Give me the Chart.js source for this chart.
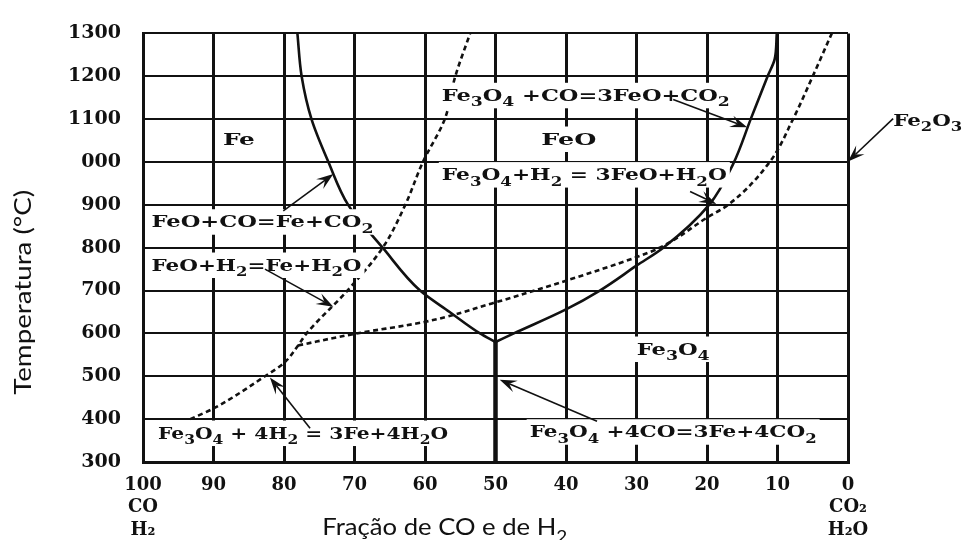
<!DOCTYPE html>
<html>
<head>
<meta charset="utf-8">
<script src="https://cdn.jsdelivr.net/npm/chart.js@4.4.1/dist/chart.umd.min.js"></script>
<style>
    html, body { margin: 0; padding: 0; background: #fff; }
</style>
</head>
<body>
<canvas id="myChart" width="962" height="540"></canvas>
<script>
// axis ticks (x runs from 100 % CO/H2 on the left to 0 on the right)
var xTickValues = [100, 90, 80, 70, 60, 50, 40, 30, 20, 10, 0];
var xTickLabels = [['100', 'CO', 'H₂'], '90', '80', '70', '60', '50', '40', '30', '20', '10', ['0', 'CO₂', 'H₂O']];
var yTickValues = [300, 400, 500, 600, 700, 800, 900, 1000, 1100, 1200, 1300];
var yTickLabels = ['300', '400', '500', '600', '700', '800', '900', '000', '1100', '1200', '1300'];

// FeO + CO = Fe + CO2 (solid)
var coFeFrac = [50, 52.2, 56.5, 60.7, 66, 70.9, 73.7, 76.1, 77.5, 78.1];
var coFeTemp = [580, 600, 650, 700, 800, 900, 1000, 1100, 1200, 1300];
// Fe3O4 + CO = 3FeO + CO2 (solid)
var coFeoFrac = [50, 47.4, 40, 35.2, 30, 26.2, 19.7, 16.3, 13.8, 11.4, 10.4, 10.1];
var coFeoTemp = [580, 600, 656, 700, 758, 800, 900, 995, 1100, 1200, 1240, 1300];
// Fe3O4 + 4CO = 3Fe + 4CO2 (solid, below 570)
var coMagFrac = [50, 50];
var coMagTemp = [300, 580];
// Fe3O4 + 4H2 = 3Fe + 4H2O and FeO + H2 = Fe + H2O (dashed)
var h2FeFrac = [93.3, 90, 82.7, 80, 78, 76.8, 71, 66, 62.8, 60.3, 57.2, 55.7, 53.6];
var h2FeTemp = [400, 425, 500, 531, 572, 600, 700, 800, 900, 1000, 1100, 1200, 1300];
// Fe3O4 + H2 = 3FeO + H2O (dashed)
var h2FeoFrac = [78, 70, 60, 50.5, 40, 30, 26.7, 20, 17, 11.1, 7.8, 5, 2.3];
var h2FeoTemp = [572, 599, 627, 670, 723, 778, 800, 870, 900, 1000, 1100, 1200, 1300];

function pts(fr, tp) {
    return fr.map((f, i) => ({ x: f, y: tp[i] }));
}

// text labels on the diagram (x = fraction, y = temperature of the text centre)
var notes = [
    { text: 'Fe', x: 86.4, y: 1053, w: 32 },
    { text: 'FeO', x: 39.6, y: 1055, w: 55 },
    { text: 'Fe_3O_4', x: 24.8, y: 565, w: 73 },
    { text: 'Fe_2O_3', x: -11.3, y: 1099, w: 69 },
    { text: 'Fe_3O_4 +CO=3FeO+CO_2', x: 37.2, y: 1157, w: 288 },
    { text: 'Fe_3O_4+H_2 = 3FeO+H_2O', x: 37.4, y: 972, w: 285 },
    { text: 'FeO+CO=Fe+CO_2', x: 83.05, y: 862, w: 222 },
    { text: 'FeO+H_2=Fe+H_2O', x: 83.9, y: 761, w: 210 },
    { text: 'Fe_3O_4 + 4H_2 = 3Fe+4H_2O', x: 77.3, y: 369, w: 290 },
    { text: 'Fe_3O_4 +4CO=3Fe+4CO_2', x: 24.8, y: 372, w: 287 }
];
// arrows: tail (x1,y1) -> head (x2,y2)
var arrows = [
    { x1: -6.4, y1: 1101, x2: 0, y2: 1001 },
    { x1: 24.8, y1: 1146, x2: 14.3, y2: 1081 },
    { x1: 22.4, y1: 931, x2: 18.7, y2: 902 },
    { x1: 80.1, y1: 886, x2: 73.0, y2: 972 },
    { x1: 82.7, y1: 750, x2: 73.0, y2: 662 },
    { x1: 76.3, y1: 379, x2: 82.0, y2: 497 },
    { x1: 35.6, y1: 395, x2: 49.4, y2: 492 }
];

var ink = '#111';
var serif = '"DejaVu Serif", serif';
var sans = 'Lato, "Open Sans", sans-serif';

function richParts(text) {
    var parts = [], re = /_(\d)/g, last = 0, m;
    while ((m = re.exec(text))) {
        if (m.index > last) parts.push({ t: text.slice(last, m.index), sub: false });
        parts.push({ t: m[1], sub: true });
        last = re.lastIndex;
    }
    if (last < text.length) parts.push({ t: text.slice(last), sub: false });
    return parts;
}

function drawRich(ctx, text, cx, cy, size, family, weight, width, bg) {
    var parts = richParts(text);
    var total = 0;
    parts.forEach(p => {
        ctx.font = weight + ' ' + (p.sub ? Math.round(size * 0.74) : size) + 'px ' + family;
        p.w = ctx.measureText(p.t).width;
        total += p.w;
    });
    var sx = width ? width / total : 1;
    var left = cx - total * sx / 2;
    if (bg) {
        ctx.fillStyle = '#fff';
        ctx.fillRect(left - 3, cy - size * 0.7, total * sx + 6, size * 1.5);
    }
    ctx.save();
    ctx.translate(left, cy + size * 0.36);
    ctx.scale(sx, 1);
    ctx.fillStyle = ink;
    ctx.textAlign = 'left';
    ctx.textBaseline = 'alphabetic';
    var x = 0;
    parts.forEach(p => {
        ctx.font = weight + ' ' + (p.sub ? Math.round(size * 0.74) : size) + 'px ' + family;
        ctx.fillText(p.t, x, p.sub ? size * 0.32 : 0);
        x += p.w;
    });
    ctx.restore();
}

function drawArrow(ctx, x1, y1, x2, y2) {
    var a = Math.atan2(y2 - y1, x2 - x1), len = 17, half = 6;
    var c = Math.cos(a), s = Math.sin(a);
    ctx.strokeStyle = ink;
    ctx.fillStyle = ink;
    ctx.lineWidth = 1.6;
    ctx.beginPath();
    ctx.moveTo(x1, y1);
    ctx.lineTo(x2 - c * len * 0.6, y2 - s * len * 0.6);
    ctx.stroke();
    ctx.beginPath();
    ctx.moveTo(x2, y2);
    ctx.lineTo(x2 - len * c + half * s, y2 - len * s - half * c);
    ctx.lineTo(x2 - len * 0.6 * c, y2 - len * 0.6 * s);
    ctx.lineTo(x2 - len * c - half * s, y2 - len * s + half * c);
    ctx.closePath();
    ctx.fill();
}

var annotate = {
    id: 'annotate',
    afterDatasetsDraw: function (chart) {
        var ctx = chart.ctx, xs = chart.scales.x, ys = chart.scales.y, area = chart.chartArea;
        ctx.save();
        notes.forEach(n => {
            drawRich(ctx, n.text, xs.getPixelForValue(n.x), ys.getPixelForValue(n.y), 17,
                serif, 'bold', n.w, true);
        });
        arrows.forEach(a => {
            drawArrow(ctx, xs.getPixelForValue(a.x1), ys.getPixelForValue(a.y1),
                xs.getPixelForValue(a.x2), ys.getPixelForValue(a.y2));
        });
        // axis titles
        drawRich(ctx, 'Fração de CO e de H_2', area.left + area.width * 0.428, chart.height - 13, 23, sans, 'normal', 245, false);
        ctx.translate(23, area.top + area.height * 0.604);
        ctx.rotate(-Math.PI / 2);
        drawRich(ctx, 'Temperatura (°C)', 0, 0, 23, sans, 'normal', 205, false);
        ctx.restore();
    }
};

var solid = { borderColor: ink, borderWidth: 2.6, pointRadius: 0, showLine: true, indexAxis: 'y', cubicInterpolationMode: 'monotone', fill: false };
var dashed = { borderColor: ink, borderWidth: 2.6, pointRadius: 0, showLine: true, indexAxis: 'y', cubicInterpolationMode: 'monotone', fill: false, borderDash: [5, 3.5] };

var ctx = document.getElementById('myChart').getContext('2d');
var myChart = new Chart(ctx, {
    type: 'scatter',
    data: {
        datasets: [
            Object.assign({ label: 'FeO+CO=Fe+CO2', data: pts(coFeFrac, coFeTemp) }, solid),
            Object.assign({ label: 'Fe3O4+CO=3FeO+CO2', data: pts(coFeoFrac, coFeoTemp) }, solid),
            Object.assign({ label: 'Fe3O4+4CO=3Fe+4CO2', data: pts(coMagFrac, coMagTemp) }, solid, { borderWidth: 4.5 }),
            Object.assign({ label: 'FeO+H2=Fe+H2O', data: pts(h2FeFrac, h2FeTemp) }, dashed),
            Object.assign({ label: 'Fe3O4+H2=3FeO+H2O', data: pts(h2FeoFrac, h2FeoTemp) }, dashed)
        ]
    },
    options: {
        responsive: false,
        animation: false,
        layout: { padding: { left: 0, right: 114, top: 20, bottom: 0 } },
        plugins: { legend: { display: false }, tooltip: { enabled: false } },
        scales: {
            x: {
                type: 'linear',
                reverse: true,
                min: 0,
                max: 100,
                afterFit: function (scale) { scale.height = 78; },
                afterBuildTicks: function (scale) { scale.ticks = xTickValues.map(v => ({ value: v })); },
                ticks: {
                    autoSkip: false,
                    maxRotation: 0,
                    padding: 12,
                    color: ink,
                    font: { family: serif, weight: 'bold', size: 18, lineHeight: 1.25 },
                    callback: function (value) { return xTickLabels[xTickValues.indexOf(value)]; }
                },
                grid: { color: ink, lineWidth: 3, drawTicks: false },
                border: { color: ink, width: 3 }
            },
            y: {
                type: 'linear',
                min: 300,
                max: 1300,
                afterFit: function (scale) { scale.width = 143; },
                afterBuildTicks: function (scale) { scale.ticks = yTickValues.map(v => ({ value: v })); },
                ticks: {
                    padding: 22,
                    color: ink,
                    font: { family: serif, weight: 'bold', size: 19 },
                    callback: function (value) { return yTickLabels[yTickValues.indexOf(value)]; }
                },
                grid: { color: ink, lineWidth: 2, drawTicks: false },
                border: { color: ink, width: 3 }
            }
        }
    },
    plugins: [annotate]
});
</script>
</body>
</html>
